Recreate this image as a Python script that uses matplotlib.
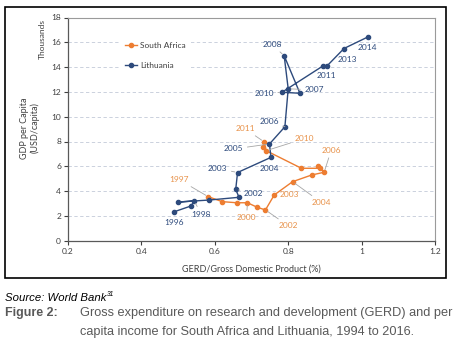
import matplotlib
matplotlib.use("Agg")
import matplotlib.pyplot as plt
from matplotlib.patches import Rectangle

# GERD (% of GDP) and GDP per capita (thousand USD)
lt_years = list(range(1996, 2015))
lt_gerd = [0.49, 0.535, 0.544, 0.50, 0.585, 0.666, 0.657, 0.662, 0.753, 0.749,
           0.791, 0.80, 0.789, 0.832, 0.783, 0.895, 0.906, 0.952, 1.017]
lt_gdp = [2.34, 2.80, 3.20, 3.12, 3.28, 3.50, 4.14, 5.50, 6.72, 7.80,
          9.19, 12.25, 14.92, 11.89, 11.97, 14.10, 14.10, 15.50, 16.43]

sa_years = list(range(1997, 2013))
sa_gerd = [0.582, 0.620, 0.660, 0.689, 0.716, 0.738, 0.762, 0.812, 0.864, 0.898,
           0.881, 0.887, 0.836, 0.740, 0.734, 0.732]
sa_gdp = [3.55, 3.15, 3.06, 3.06, 2.69, 2.48, 3.69, 4.76, 5.30, 5.52,
          6.02, 5.84, 5.84, 7.26, 7.98, 7.53]

x_ticks = [0.2, 0.4, 0.6, 0.8, 1.0, 1.2]
x_tick_labels = ["0.2", "0.4", "0.6", "0.8", "1", "1.2"]
y_ticks = list(range(0, 19, 2))

# labelled years -> (dx, dy) offset of the label in pixels, leader line or not
lt_labels = {1996: (0, -11, False), 1998: (7, -13, True), 2002: (18, -4, True),
             2003: (-20, 4, True), 2004: (-2, -11, False), 2005: (-36, -5, True),
             2006: (-16, 5, True), 2007: (26, -1, True), 2008: (-12, 11, True),
             2010: (-18, -1, True), 2011: (3, -10, False), 2013: (3, -11, False),
             2014: (0, -11, False)}
sa_labels = {1997: (-29, 17, True), 2000: (-1, -15, True), 2002: (23, -16, True),
             2003: (15, 0, False), 2004: (29, -21, True), 2006: (7, 22, True),
             2010: (38, 12, True), 2011: (-19, 13, True)}

NAVY = "#2D4A7C"
ORANGE = "#ED7D31"
ORANGE_TXT = "#E8924A"
LEADER = "#A6A6A6"
TXT = "#404040"

plt.rcParams["font.family"] = ["Lato", "DejaVu Sans"]

fig = plt.figure(figsize=(4.56, 3.56), dpi=100)
ax = fig.add_axes([68 / 456, 1 - 240.7 / 356, 367 / 456, 223.2 / 356])

for y in y_ticks[1:-1]:
    ax.axhline(y, color="#C3CAD8", lw=0.6, dashes=(4, 3), zorder=0)

ax.plot(sa_gerd, sa_gdp, color=ORANGE, lw=1.0, marker="o", ms=3,
        label="South Africa", zorder=3)
ax.plot(lt_gerd, lt_gdp, color=NAVY, lw=1.0, marker="o", ms=3,
        label="Lithuania", zorder=4)


def add_labels(years, xs, ys, labels, color):
    for yr, (dx, dy, lead) in labels.items():
        i = years.index(yr)
        props = None
        if lead:
            props = dict(arrowstyle="-", color=LEADER, lw=0.6, shrinkA=1, shrinkB=2)
        ax.annotate(str(yr), (xs[i], ys[i]), xytext=(dx, dy),
                    textcoords="offset pixels", ha="center", va="center",
                    fontsize=6, color=color, arrowprops=props, zorder=5)


add_labels(lt_years, lt_gerd, lt_gdp, lt_labels, NAVY)
add_labels(sa_years, sa_gerd, sa_gdp, sa_labels, ORANGE_TXT)

ax.set_xlim(0.2, 1.2)
ax.set_ylim(0, 18)
ax.set_xticks(x_ticks)
ax.set_xticklabels(x_tick_labels)
ax.set_yticks(y_ticks)
ax.tick_params(labelsize=6, colors=TXT, length=3, width=0.8, pad=2)
for side in ["left", "bottom"]:
    ax.spines[side].set_color("#595959")
    ax.spines[side].set_linewidth(0.9)
for side in ["top", "right"]:
    ax.spines[side].set_color("#9A9A9A")
    ax.spines[side].set_linewidth(0.8)

ax.set_xlabel("GERD/Gross Domestic Product (%)", fontsize=6.5, color=TXT, labelpad=7)

leg = ax.legend(loc="upper left", bbox_to_anchor=(0.13, 0.93), fontsize=6,
                frameon=True, handlelength=1.4, handletextpad=0.4,
                labelspacing=1.5, borderpad=0.6)
leg.get_frame().set_edgecolor("none")
leg.get_frame().set_facecolor("white")
leg.get_frame().set_alpha(1)
for t in leg.get_texts():
    t.set_color(TXT)

fig.text(42 / 456, 1 - 39 / 356, "Thousands", rotation=90, fontsize=6,
         color=TXT, ha="center", va="center")
fig.text(30 / 456, 1 - 128 / 356, "GDP per Capita\n(USD/capita)", rotation=90,
         fontsize=6.5, color=TXT, ha="center", va="center", multialignment="center",
         linespacing=1.1)

fig.patches.append(Rectangle((5 / 456, 1 - 278 / 356), 441 / 456, 271 / 356,
                             transform=fig.transFigure, fill=False,
                             ec="black", lw=1.2))

cap = ["Liberation Sans", "DejaVu Sans"]
src = fig.text(5 / 456, 1 - 298 / 356, "Source: World Bank", fontsize=8.2,
               style="italic", family=cap, ha="left", va="center", color="black")
fig.canvas.draw()
bb = src.get_window_extent()
fig.text((bb.x1 + 0.5) / 456, 1 - 295 / 356, "31", fontsize=4.8, style="italic",
         family=cap, ha="left", va="center", color="black")
fig.text(5 / 456, 1 - 313 / 356, "Figure 2:", fontsize=9, weight="bold",
         family=cap, ha="left", va="center", color="#595959")
fig.text(80 / 456, 1 - 313 / 356,
         "Gross expenditure on research and development (GERD) and per",
         fontsize=9.2, family=cap, ha="left", va="center", color="#595959")
fig.text(80 / 456, 1 - 331.5 / 356,
         "capita income for South Africa and Lithuania, 1994 to 2016.",
         fontsize=9.2, family=cap, ha="left", va="center", color="#595959")

fig.savefig("out.png", dpi=100)
